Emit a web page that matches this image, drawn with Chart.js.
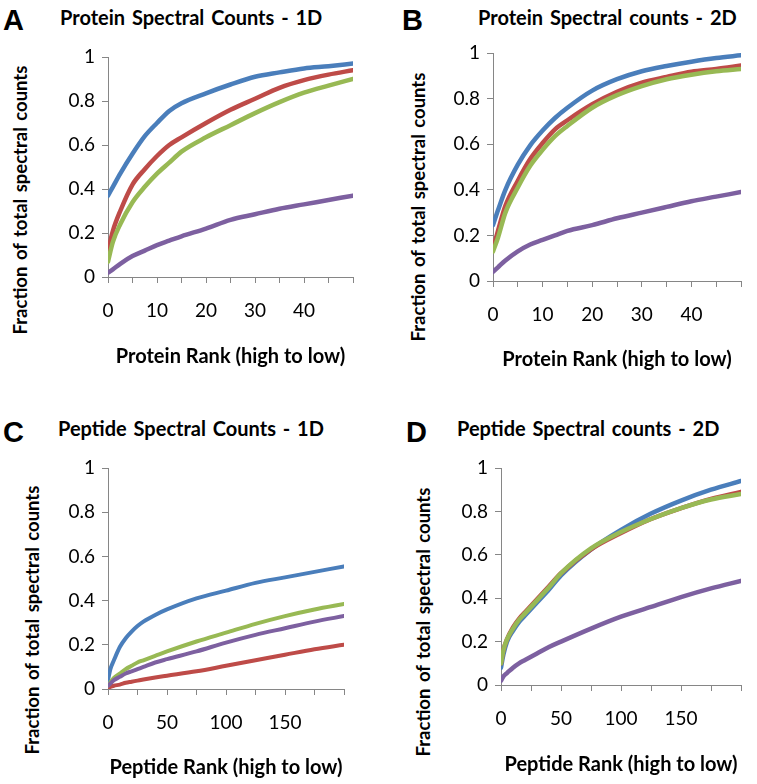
<!DOCTYPE html>
<html>
<head>
<meta charset="utf-8">
<script src="https://cdn.jsdelivr.net/npm/chart.js@4.4.1/dist/chart.umd.min.js"></script>
<style>
  body { margin: 0; background: #fff; }
  #wrap { position: relative; width: 757px; height: 784px; overflow: hidden; font-family: Lato, "Open Sans", sans-serif; color: #000; }
  canvas { position: absolute; }
  .txt { position: absolute; white-space: nowrap; line-height: 1; }
  .letter { font-family: "Liberation Sans", Arial, sans-serif; font-weight: bold; font-size: 29px; }
  .head { font-weight: bold; font-size: 20px; word-spacing: 2px; }
  .ytitle { font-weight: bold; font-size: 18.5px; word-spacing: 2px; transform: translate(-50%, -50%) rotate(-90deg); }
</style>
</head>
<body>
<div id="wrap">
  <div class="txt letter" style="left:3px;top:6px">A</div>
  <div class="txt head" style="left:60px;top:7px">Protein Spectral Counts - 1D</div>
  <div class="txt ytitle" style="left:20px;top:200px">Fraction of total spectral counts</div>
  <canvas id="chartA" width="378" height="390" style="left:0;top:0"></canvas>

  <div class="txt letter" style="left:402px;top:6px">B</div>
  <div class="txt head" style="left:478px;top:7px">Protein Spectral counts - 2D</div>
  <div class="txt ytitle" style="left:418px;top:207px">Fraction of total spectral counts</div>
  <canvas id="chartB" width="379" height="390" style="left:378px;top:0"></canvas>

  <div class="txt letter" style="left:3px;top:418px">C</div>
  <div class="txt head" style="left:58px;top:418px">Peptide Spectral Counts - 1D</div>
  <div class="txt ytitle" style="left:32px;top:620px">Fraction of total spectral counts</div>
  <canvas id="chartC" width="378" height="394" style="left:0;top:390px"></canvas>

  <div class="txt letter" style="left:406px;top:418px">D</div>
  <div class="txt head" style="left:457px;top:418px">Peptide Spectral counts - 2D</div>
  <div class="txt ytitle" style="left:423px;top:622px">Fraction of total spectral counts</div>
  <canvas id="chartD" width="379" height="394" style="left:378px;top:390px"></canvas>
</div>
<script>
"use strict";
// protein rank panels (A, B)
var proteinRank = [0, 1, 2.5, 5, 7.5, 10, 12.5, 15, 20, 25, 30, 35, 40, 45, 50];
var aBlue   = [0.37, 0.41, 0.47, 0.56, 0.64, 0.70, 0.755, 0.79, 0.835, 0.875, 0.91, 0.93, 0.948, 0.958, 0.97];
var aRed    = [0.12, 0.21, 0.30, 0.42, 0.49, 0.55, 0.60, 0.635, 0.70, 0.76, 0.81, 0.86, 0.895, 0.92, 0.94];
var aGreen  = [0.07, 0.16, 0.24, 0.34, 0.41, 0.47, 0.52, 0.57, 0.635, 0.69, 0.745, 0.795, 0.838, 0.87, 0.90];
var aPurple = [0.02, 0.035, 0.06, 0.095, 0.12, 0.145, 0.165, 0.185, 0.22, 0.26, 0.285, 0.31, 0.33, 0.35, 0.37];

var bBlue   = [0.245, 0.31, 0.40, 0.51, 0.595, 0.66, 0.715, 0.76, 0.835, 0.885, 0.92, 0.943, 0.962, 0.978, 0.99];
var bRed    = [0.14, 0.22, 0.33, 0.44, 0.535, 0.605, 0.665, 0.705, 0.775, 0.83, 0.87, 0.895, 0.918, 0.93, 0.945];
var bGreen  = [0.13, 0.19, 0.30, 0.41, 0.505, 0.575, 0.635, 0.68, 0.76, 0.815, 0.855, 0.885, 0.905, 0.92, 0.93];
var bPurple = [0.04, 0.06, 0.09, 0.13, 0.16, 0.18, 0.20, 0.22, 0.245, 0.275, 0.30, 0.325, 0.35, 0.37, 0.39];

// peptide rank panels (C, D)
var peptideRank = [0, 2, 5, 10, 15, 20, 25, 30, 40, 50, 75, 100, 125, 150, 175, 200];
var cBlue   = [0.04, 0.09, 0.13, 0.19, 0.23, 0.26, 0.285, 0.305, 0.335, 0.36, 0.41, 0.445, 0.48, 0.505, 0.53, 0.555];
var cRed    = [0.005, 0.01, 0.015, 0.02, 0.028, 0.033, 0.038, 0.043, 0.052, 0.06, 0.08, 0.105, 0.13, 0.155, 0.18, 0.20];
var cGreen  = [0.015, 0.03, 0.05, 0.07, 0.09, 0.105, 0.12, 0.13, 0.15, 0.17, 0.215, 0.255, 0.295, 0.33, 0.36, 0.385];
var cPurple = [0.015, 0.025, 0.04, 0.055, 0.07, 0.08, 0.09, 0.10, 0.12, 0.135, 0.17, 0.21, 0.245, 0.275, 0.305, 0.33];

var dBlue   = [0.08, 0.14, 0.20, 0.25, 0.29, 0.32, 0.35, 0.38, 0.44, 0.505, 0.625, 0.715, 0.79, 0.85, 0.90, 0.94];
var dRed    = [0.10, 0.16, 0.21, 0.265, 0.305, 0.335, 0.365, 0.395, 0.455, 0.515, 0.625, 0.70, 0.765, 0.815, 0.858, 0.89];
var dGreen  = [0.10, 0.16, 0.21, 0.26, 0.30, 0.33, 0.36, 0.39, 0.45, 0.515, 0.63, 0.705, 0.765, 0.815, 0.855, 0.88];
var dPurple = [0.02, 0.04, 0.055, 0.08, 0.10, 0.115, 0.13, 0.145, 0.175, 0.20, 0.26, 0.315, 0.36, 0.405, 0.445, 0.48];

var yTicks = [0, 0.2, 0.4, 0.6, 0.8, 1];

var BLUE = "#4a7ebb", RED = "#be4b48", GREEN = "#98b954", PURPLE = "#7d60a0";
var AXIS = "#868686";

function pts(xs, ys) {
  return xs.map(function (x, i) { return { x: x, y: ys[i] }; });
}

function line(xs, ys, color, order, w) {
  return {
    data: pts(xs, ys),
    borderColor: color,
    backgroundColor: color,
    borderWidth: w,
    pointRadius: 0,
    borderCapStyle: "round",
    borderJoinStyle: "round",
    cubicInterpolationMode: "monotone",
    order: order,
  };
}

function makeChart(id, xs, series, cfg) {
  var ctx = document.getElementById(id);
  return new Chart(ctx, {
    type: "line",
    data: {
      datasets: [
        line(xs, series[0], BLUE, 3, cfg.lw),
        line(xs, series[1], RED, 2, cfg.lw),
        line(xs, series[2], GREEN, 1, cfg.lw),
        line(xs, series[3], PURPLE, 0, cfg.lw),
      ],
    },
    options: {
      responsive: false,
      animation: false,
      events: [],
      layout: { padding: { left: 0, top: cfg.top, right: cfg.right, bottom: 0 } },
      plugins: { legend: { display: false }, tooltip: { enabled: false } },
      scales: {
        x: {
          type: "linear",
          min: 0,
          max: cfg.xmax,
          afterFit: function (s) { s.height = cfg.xh; },
          afterBuildTicks: function (s) {
            var t = [];
            for (var v = 0; v <= cfg.xmax; v += cfg.step) t.push({ value: v });
            s.ticks = t;
          },
          ticks: {
            autoSkip: false,
            maxRotation: 0,
            padding: 16,
            color: "#000",
            font: { family: "Lato", size: 19 },
            callback: function (v) {
              return v % cfg.label === 0 && v < cfg.xmax ? String(v) : "";
            },
          },
          grid: { drawOnChartArea: false, drawTicks: true, tickLength: 6, color: AXIS },
          border: { color: AXIS, width: 1 },
          title: {
            display: true,
            text: cfg.xtitle,
            color: "#000",
            font: { family: "Lato", size: 20, weight: "bold", lineHeight: 1 },
            padding: { top: 0, bottom: cfg.xtpad },
          },
        },
        y: {
          min: 0,
          max: 1,
          afterFit: function (s) { s.width = cfg.yw; },
          afterBuildTicks: function (s) {
            s.ticks = yTicks.map(function (v) { return { value: v }; });
          },
          ticks: {
            padding: 7,
            color: "#000",
            font: { family: "Lato", size: 19 },
            callback: function (v) { return String(Math.round(v * 10) / 10); },
          },
          grid: { drawOnChartArea: false, drawTicks: true, tickLength: 6, color: AXIS },
          border: { color: AXIS, width: 1 },
        },
      },
    },
  });
}

makeChart("chartA", proteinRank, [aBlue, aRed, aGreen, aPurple],
  { top: 57, right: 25, yw: 108, xh: 113, xmax: 50, step: 5, label: 10, lw: 4.5,
    xtitle: "Protein Rank (high to low)", xtpad: 23 });
makeChart("chartB", proteinRank, [bBlue, bRed, bGreen, bPurple],
  { top: 53, right: 12, yw: 115, xh: 109, xmax: 50, step: 5, label: 10, lw: 4.5,
    xtitle: "Protein Rank (high to low)", xtpad: 20 });
makeChart("chartC", peptideRank, [cBlue, cRed, cGreen, cPurple],
  { top: 78, right: 34, yw: 108, xh: 95, xmax: 200, step: 25, label: 50, lw: 4,
    xtitle: "Peptide Rank (high to low)", xtpad: 6 });
makeChart("chartD", peptideRank, [dBlue, dRed, dGreen, dPurple],
  { top: 78, right: 7, yw: 123, xh: 99, xmax: 200, step: 25, label: 50, lw: 4.5,
    xtitle: "Peptide Rank (high to low)", xtpad: 9 });
</script>
</body>
</html>
